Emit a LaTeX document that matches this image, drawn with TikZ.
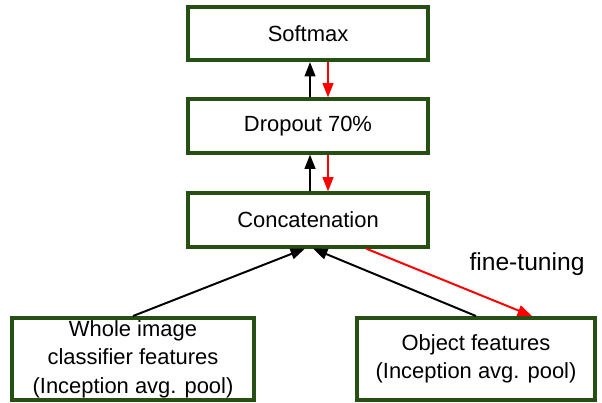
\documentclass[tikz,border=0pt]{standalone}
\usepackage{fontspec}
\setmainfont{Liberation Sans}
\usepackage{tikz}
\usetikzlibrary{positioning,arrows.meta}
\definecolor{boxgreen}{RGB}{39,78,19}

\begin{document}
\begin{tikzpicture}[
    x=0.025cm, y=-0.025cm,
    box/.style={draw=boxgreen, line width=2.8pt, minimum width=6cm, minimum height=1.33cm,
        align=center, font=\fontsize{15.6}{20.3}\selectfont, inner sep=0pt},
    fwd/.style={-{Triangle[length=0.36cm, width=0.27cm]}, line width=1.4pt, black},
    back/.style={-{Triangle[length=0.36cm, width=0.27cm]}, line width=1.4pt, red}
]
\useasboundingbox (0,0) rectangle (602,402);

% Stack of layers
\node[box] (softmax) at (308,33.5) {Softmax};
\node[box] (dropout) at (308,126) {Dropout 70\%};
\node[box] (concat) at (308,220) {Concatenation};

% Input features
\node[box, minimum width=6.05cm, minimum height=2.05cm] (whole) at (133,359)
    {Whole image\\classifier features\\(Inception avg. pool)};
\node[box, minimum width=5.95cm, minimum height=2.05cm] (object) at (476,359)
    {Object features\\(Inception avg. pool)};

% Forward pass
\draw[fwd] ([xshift=0.05cm]dropout.north) -- ([xshift=0.05cm]softmax.south);
\draw[fwd] ([xshift=0.05cm]concat.north) -- ([xshift=0.05cm]dropout.south);
\draw[fwd] (whole.north) -- ([xshift=-0.075cm]concat.south);
\draw[fwd] (object.north) -- ([xshift=0.125cm]concat.south);

% Fine-tuning (backward)
\draw[back] ([xshift=0.5cm]softmax.south) -- ([xshift=0.5cm]dropout.north);
\draw[back] ([xshift=0.5cm]dropout.south) -- ([xshift=0.5cm]concat.north);
\draw[back] ([xshift=1.45cm]concat.south) -- ([xshift=1.4cm]object.north);

\node[font=\fontsize{17.5}{20}\selectfont] (ft) at (527,264) {fine-tuning};

\end{tikzpicture}
\end{document}
